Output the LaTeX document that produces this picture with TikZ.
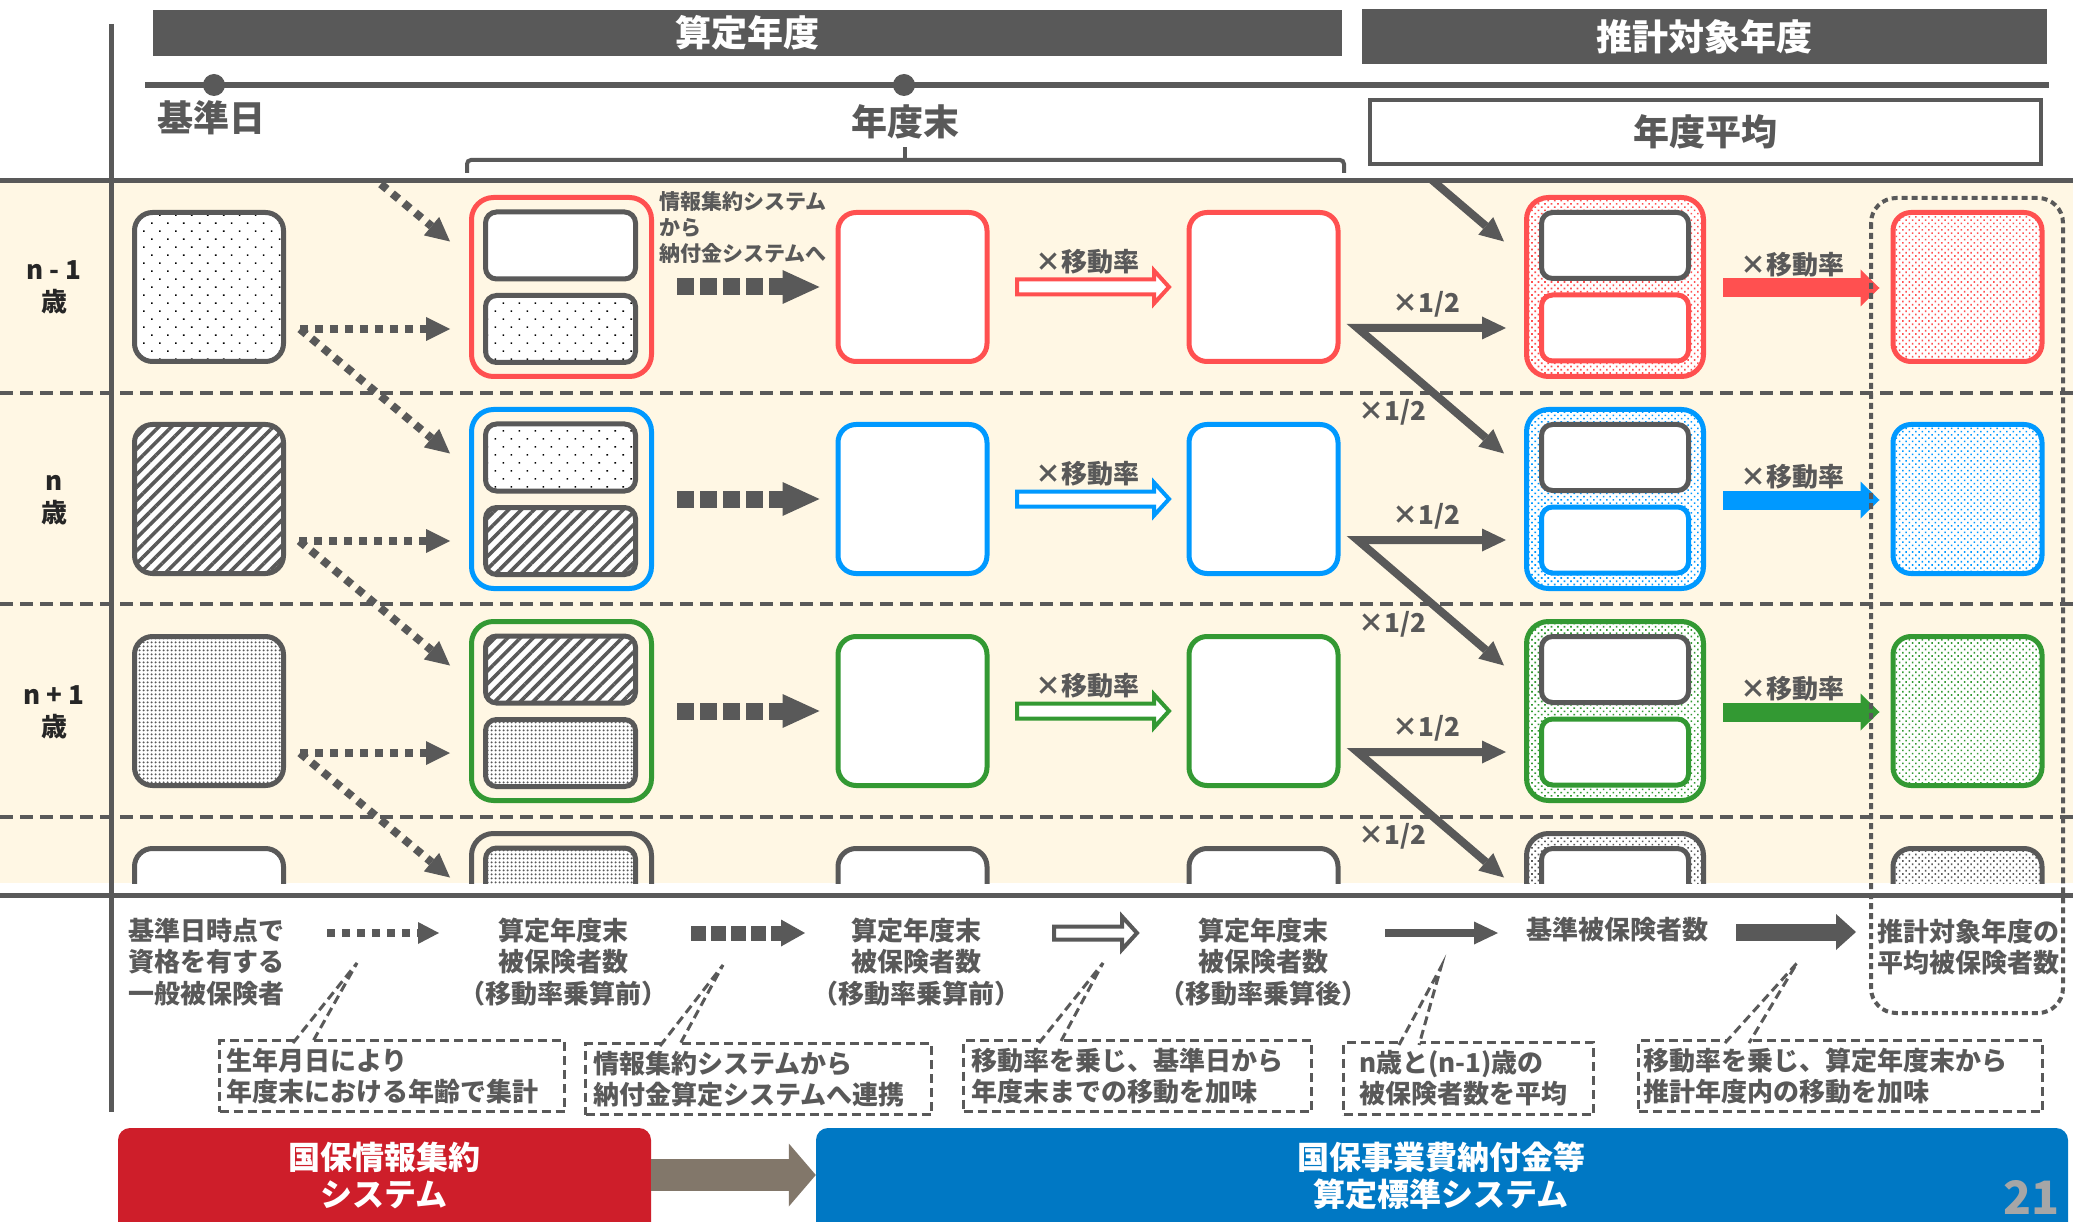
\documentclass[tikz,border=0pt]{standalone}
\usepackage{fontspec}
\setmainfont{Noto Sans CJK JP}
\usetikzlibrary{arrows.meta,patterns.meta,calc}
\definecolor{dg}{RGB}{89,89,89}
\definecolor{cream}{RGB}{255,247,228}
\definecolor{cr}{RGB}{255,80,80}
\definecolor{cb}{RGB}{0,153,255}
\definecolor{cg}{RGB}{51,153,51}
\definecolor{sysred}{RGB}{206,30,42}
\definecolor{sysblue}{RGB}{0,120,196}
\definecolor{sysarrow}{RGB}{130,119,106}
\definecolor{pgnum}{RGB}{166,166,166}
\definecolor{ink}{RGB}{38,38,38}
% hollow (outlined) arrow: color, start, end, shaft half, head half, head length
\newcommand\hollowarrow[6]{%
  \draw[line width=4pt, draw=#1, fill=white, line join=miter, miter limit=10]
    let \p1=(#2), \p2=(#3) in
    (\x1,\y1+#4pt) -- (\x2-#6pt,\y1+#4pt) -- (\x2-#6pt,\y1+#5pt) -- (\x2,\y1)
    -- (\x2-#6pt,\y1-#5pt) -- (\x2-#6pt,\y1-#4pt) -- (\x1,\y1-#4pt) -- cycle;}
\begin{document}
\begin{tikzpicture}[x=1pt,y=-1pt,
  every node/.style={inner sep=0pt},
  basebox/.style={draw=dg, line width=5pt, rounded corners=18pt, minimum width=149pt, minimum height=149pt},
  outerbox/.style={draw=dg, line width=5pt, rounded corners=22pt, minimum width=180pt, minimum height=179pt},
  innerbox/.style={draw=dg, line width=5pt, rounded corners=11pt, minimum width=150pt, minimum height=67pt},
  outerboxE/.style={draw=dg, line width=5pt, rounded corners=22pt, minimum width=177pt, minimum height=179pt},
  innerboxE/.style={draw=dg, fill=white, line width=5pt, rounded corners=11pt, minimum width=147pt, minimum height=66pt},
  pat0/.style={fill=white},
  pat1/.style={preaction={fill=white}, pattern={Dots[distance=11.3pt, angle=45, radius=1.1pt]}, pattern color=black},
  pat2/.style={preaction={fill=white}, pattern={Lines[distance=9pt, angle=45, line width=3.6pt]}, pattern color=dg},
  pat3/.style={preaction={fill=white}, pattern={Dots[distance=4pt, radius=1.3pt]}, pattern color=dg},
  pat4/.style={fill=white},
  cdots/.style={preaction={fill=white}, pattern={Dots[distance=4.6pt, angle=45, radius=1.15pt]}, pattern color=#1},
  dotarr/.style={draw=dg, line width=8pt, dash pattern=on 8pt off 7pt, -{Triangle[length=24pt,width=24pt,line width=0pt]}},
  dotarrS/.style={draw=dg, line width=8pt, dash pattern=on 8pt off 7pt, -{Triangle[length=21pt,width=22pt,line width=0pt]}},
  blkarr/.style={draw=dg, line width=17pt, dash pattern=on 17pt off 6pt, -{Triangle[length=37pt,width=34pt,line width=0pt]}},
  blkarrS/.style={draw=dg, line width=15pt, dash pattern=on 15pt off 5pt, -{Triangle[length=24pt,width=27pt,line width=0pt]}},
  solarr/.style={draw=dg, line width=8pt, line join=miter, -{Triangle[length=24pt,width=23pt,line width=0pt]}},
  solarr2/.style={draw=dg, line width=8pt, line join=miter, {Triangle[length=24pt,width=23pt,line width=0pt]}-{Triangle[length=24pt,width=23pt,line width=0pt]}},
  colarr/.style={line width=19pt, -{Triangle[length=19pt,width=37pt,line width=0pt]}},
  thkarr/.style={draw=dg, line width=17pt, -{Triangle[length=20pt,width=36pt,line width=0pt]}},
  sysarr/.style={draw=sysarrow, line width=32pt, -{Triangle[length=27pt,width=63pt,line width=0pt]}},
  sep/.style={draw=dg, line width=3.5pt, dash pattern=on 13pt off 7pt},
  grpbox/.style={draw=dg, line width=4pt, dash pattern=on 6pt off 4pt, rounded corners=25pt},
  lbl/.style={text=dg, font=\fontsize{26pt}{30pt}\selectfont\bfseries},
  info/.style={text=dg, font=\fontsize{21pt}{26pt}\selectfont\bfseries, align=left},
  lgtext/.style={text=dg, font=\fontsize{26pt}{31.5pt}\selectfont\bfseries, align=center},
  big/.style={text=dg, font=\fontsize{36pt}{40pt}\selectfont\bfseries},
  hdr/.style={fill=dg, text=white, font=\fontsize{36pt}{40pt}\selectfont\bfseries},
  rowlab/.style={text=ink, font=\fontsize{26pt}{32pt}\selectfont\bfseries, align=center},
  callout/.style={draw=dg, line width=3pt, dash pattern=on 9pt off 5pt, fill=white, text=dg,
     font=\fontsize{26pt}{31pt}\selectfont\bfseries, align=left},
  callline/.style={draw=dg, line width=3pt, dash pattern=on 9pt off 5pt},
  sysbar/.style={rounded corners=12pt, draw=none},
  systxt/.style={text=white, font=\fontsize{32pt}{37pt}\selectfont\bfseries, align=center}
]
\useasboundingbox (0,0) rectangle (2073,1222);
\fill[white] (0,0) rectangle (2073,1222);

% ---------- headers ----------
\node[hdr, minimum width=1189pt, minimum height=46pt] (H1) at (747.5,33) {算定年度};
\node[hdr, minimum width=685pt, minimum height=55pt] (H2) at (1704.5,36.5) {推計対象年度};
\draw[line width=6pt, dg] (145,85) -- (2049,85);
\node[circle, fill=dg, minimum size=22pt] (T1) at (214,85) {};
\node[circle, fill=dg, minimum size=22pt] (T2) at (904,85) {};
\node[big] (KJ) at (211,118) {基準日};
\node[big] (NM) at (905,122) {年度末};
\draw[line width=4pt, dg, rounded corners=4pt] (467,173) -- (467,160) -- (1344,160) -- (1344,173);
\draw[line width=4pt, dg] (905,160) -- (905,147);
\node[big, draw=dg, line width=4pt, fill=white, minimum width=671pt, minimum height=64pt] (AV) at (1705.5,132) {年度平均};

% ---------- band ----------
\fill[cream] (0,183) rectangle (2073,883);
\foreach \yy in {393,604,817} \draw[sep] (0,\yy) -- (2073,\yy);
\draw[line width=5pt, dg] (0,181) -- (2073,181);
\draw[line width=5pt, dg] (0,895) -- (2073,895);

\node[rowlab] (R1) at (54,287.5) {n - 1\\歳};
\node[rowlab] (R2) at (54,500) {n\\歳};
\node[rowlab] (R3) at (54,712) {n + 1\\歳};

\begin{scope}
\clip (0,184) rectangle (2073,883);
\foreach \rr/\cc in {1/cr,2/cb,3/cg,4/dg}{
  \pgfmathsetmacro\yc{287+212*(\rr-1)}
  \pgfmathtruncatemacro\rp{\rr-1}
  \node[basebox, pat\rr] (a\rr) at (209,\yc) {};
  \node[outerbox, draw=\cc] (o\rr) at (561.5,\yc) {};
  \node[innerbox, pat\rp] (u\rr) at (560.5,\yc-41.5) {};
  \node[innerbox, pat\rr] (l\rr) at (560.5,\yc+42) {};
  \node[basebox, draw=\cc, fill=white] (c\rr) at (912.5,\yc) {};
  \node[basebox, draw=\cc, fill=white] (d\rr) at (1263.5,\yc) {};
  \node[outerboxE, draw=\cc, cdots=\cc] (e\rr) at (1615,\yc) {};
  \node[innerboxE] (eu\rr) at (1615,\yc-41.5) {};
  \node[innerboxE, draw=\cc] (el\rr) at (1615,\yc+41) {};
  \node[basebox, draw=\cc, cdots=\cc] (f\rr) at (1967.5,\yc) {};
}
\coordinate (s0) at (300,117);
\coordinate (k0) at (1357,116);
\draw[dotarr] (s0) -- ($(o1.west |- u1)+(-19,-4)$);
\draw[solarr] (k0) -- ($(e1.west |- eu1)+(-20,-4)$);
\foreach \rr/\cc in {1/cr,2/cb,3/cg}{
  \pgfmathsetmacro\yc{287+212*(\rr-1)}
  \pgfmathtruncatemacro\rn{\rr+1}
  \draw[dotarr] ($(a\rr.east |- l\rr)+(14,0)$) -- ($(o\rr.west |- l\rr)+(-19,0)$);
  \draw[dotarr] ($(a\rr.east |- l\rr)+(14,0)$) -- ($(o\rn.west |- u\rn)+(-19,-4)$);
  \draw[blkarr] ($(o\rr.east)+(23,0)$) -- ($(c\rr.west)+(-16,0)$);
  \hollowarrow{\cc}{$(c\rr.east)+(27.5,0)$}{$(d\rr.west)+(-17.5,0)$}{7.5}{16.5}{15}
  \draw[solarr2] ($(e\rn.west |- eu\rn)+(-20,-4)$) -- ($(d\rr.east |- el\rr)+(17,0)$) -- ($(e\rr.west |- el\rr)+(-18,0)$);
  \draw[colarr, draw=\cc] ($(e\rr.east)+(17,1)$) -- ($(f\rr.west)+(-11,1)$);
  \node[lbl] (mv\rr) at (1087,\yc-25) {×移動率};
  \node[lbl] (hh\rr) at (1426,\yc+17) {×1/2};
  \node[lbl] (hd\rr) at (1392,\yc+125) {×1/2};
  \node[lbl] (mw\rr) at (1792,\yc-22) {×移動率};
}
\node[info, anchor=west] (INFO) at (659,228) {情報集約システム\\から\\納付金システムへ};
\end{scope}

\draw[line width=5pt, dg] (111,24) -- (111,1112);
\draw[grpbox] (1871,198) rectangle (2063,1013);

% ---------- legend ----------
\node[lgtext, anchor=west, align=left] (L1) at (128,962) {基準日時点で\\資格を有する\\一般被保険者};
\node[lgtext] (L2) at (563,962) {算定年度末\\被保険者数\\（移動率乗算前）};
\node[lgtext] (L3) at (916,962) {算定年度末\\被保険者数\\（移動率乗算前）};
\node[lgtext] (L4) at (1263,962) {算定年度末\\被保険者数\\（移動率乗算後）};
\node[lgtext] (L5) at (1617,930) {基準被保険者数};
\node[lgtext] (L6) at (1968,947) {推計対象年度の\\平均被保険者数};
\coordinate (g1s) at (327,933); \coordinate (g1e) at (439,933);
\coordinate (g2s) at (691,933); \coordinate (g2e) at (805,933);
\coordinate (g4s) at (1385,933); \coordinate (g4e) at (1498,933);
\coordinate (g5s) at (1736,932); \coordinate (g5e) at (1856,932);
\draw[dotarrS] (g1s) -- (g1e);
\draw[blkarrS] (g2s) -- (g2e);
\hollowarrow{dg}{1054,933}{1137,933}{6.5}{16.5}{15}
\draw[solarr] (g4s) -- (g4e);
\draw[thkarr] (g5s) -- (g5e);

% ---------- callouts ----------
\node[callout, minimum width=345pt, minimum height=71pt, text width=332pt, inner xsep=6.5pt] (CA) at (392,1076) {生年月日により\\年度末における年齢で集計};
\node[callout, minimum width=346pt, minimum height=71pt, text width=331pt, inner xsep=7.5pt] (CB) at (758.5,1079) {情報集約システムから\\納付金算定システムへ連携};
\node[callout, minimum width=348pt, minimum height=71pt, text width=333pt, inner xsep=7.5pt] (CC) at (1137.5,1076) {移動率を乗じ、基準日から\\年度末までの移動を加味};
\node[callout, minimum width=250pt, minimum height=72pt, text width=219pt, inner xsep=15.5pt] (CD) at (1468.5,1078.5) {n歳と(n-1)歳の\\被保険者数を平均};
\node[callout, minimum width=404pt, minimum height=71pt, text width=395pt, inner xsep=4.5pt] (CE) at (1840.5,1076) {移動率を乗じ、算定年度末から\\推計年度内の移動を加味};
\coordinate (tA) at (357,963);
\coordinate (tB) at (723,965);
\coordinate (tC) at (1103,963);
\coordinate (tD) at (1441,967);
\coordinate (tE) at (1797,963);
\filldraw[callline, fill=white] ($(CA.north west)+(75,4)$) -- (tA) -- ($(CA.north west)+(94,4)$);
\filldraw[callline, fill=white] ($(CB.north west)+(76,4)$) -- (tB) -- ($(CB.north west)+(95,4)$);
\filldraw[callline, fill=white] ($(CC.north west)+(77,4)$) -- (tC) -- ($(CC.north west)+(98,4)$);
\filldraw[callline, fill=white] ($(CD.north west)+(57,4)$) -- (tD) -- ($(CD.north west)+(77,4)$);
\filldraw[callline, fill=white] ($(CE.north west)+(88,4)$) -- (tE) -- ($(CE.north west)+(112,4)$);

% ---------- systems ----------
\node[sysbar, fill=sysred, minimum width=533pt, minimum height=120pt] (SR) at (384.5,1188) {};
\node[sysbar, fill=sysblue, minimum width=1252pt, minimum height=120pt] (SB) at (1442,1188) {};
\node[systxt] (SRt) at (384,1175) {国保情報集約\\システム};
\node[systxt] (SBt) at (1441,1176) {国保事業費納付金等\\算定標準システム};
\draw[sysarr] (SR.east |- SRt) -- (SB.west |- SRt);
\node[text=pgnum, font=\fontsize{46pt}{50pt}\selectfont\bfseries] (PG) at (2031,1197) {21};
\end{tikzpicture}
\end{document}
